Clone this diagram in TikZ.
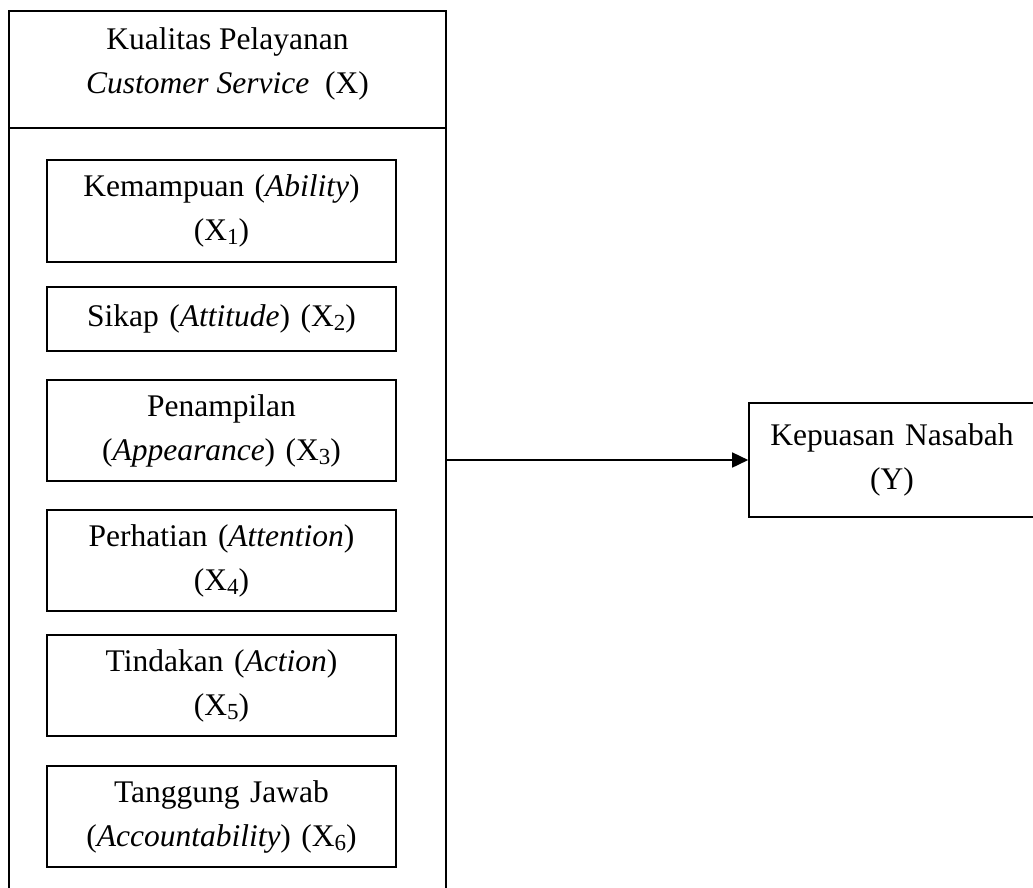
\documentclass[tikz,border=0pt]{standalone}
\usepackage{fontspec}
\setmainfont{Liberation Serif}
\usetikzlibrary{arrows.meta}
\newcommand{\xsub}[1]{(X\raisebox{-0.3ex}{\fontsize{23}{23}\selectfont #1})}

\begin{document}
\begin{tikzpicture}[
    x=1pt, y=-1pt,
    every node/.style={font=\fontsize{31.5}{44}\selectfont},
    wrap/.style={rectangle, draw, line width=1.6pt, minimum width=437pt, minimum height=949pt, inner sep=0pt},
    block/.style={rectangle, draw, line width=1.6pt, minimum width=349pt, text width=340pt, align=center, inner sep=0pt},
    line/.style={draw, line width=1.6pt, -{Triangle[length=16pt,width=15pt]}}
    ]
    \useasboundingbox (0,0) rectangle (1033,887);
    \node [wrap] (service) at (227.5,485.5) {};
    \coordinate (hdr) at (0,128);
    \draw [line width=1.6pt] (service.west |- hdr) -- (service.east |- hdr);
    \node [align=center] (judul) at (227.5,64) {Kualitas Pelayanan\\\textit{Customer Service}\ \ (X)};

    \node [block, minimum height=102pt] (ability) at (221.5,211) {Kemampuan (\textit{Ability})\\\xsub{1}};
    \node [block, minimum height=64pt] (attitude) at (221.5,319) {Sikap (\textit{Attitude}) \xsub{2}};
    \node [block, minimum height=101pt] (appearance) at (221.5,430.5) {Penampilan\\(\textit{Appearance}) \xsub{3}};
    \node [block, minimum height=101pt] (attention) at (221.5,560.5) {Perhatian (\textit{Attention})\\\xsub{4}};
    \node [block, minimum height=101pt] (action) at (221.5,685.5) {Tindakan (\textit{Action})\\\xsub{5}};
    \node [block, minimum height=101pt] (accountability) at (221.5,816.5) {Tanggung Jawab\\(\textit{Accountability}) \xsub{6}};

    \node [block, minimum width=286pt, text width=276pt, minimum height=114pt] (puas) at (892,460) {Kepuasan Nasabah\\(Y)};

    \draw [line] (service.east |- puas.west) -- (puas.west);
\end{tikzpicture}
\end{document}
